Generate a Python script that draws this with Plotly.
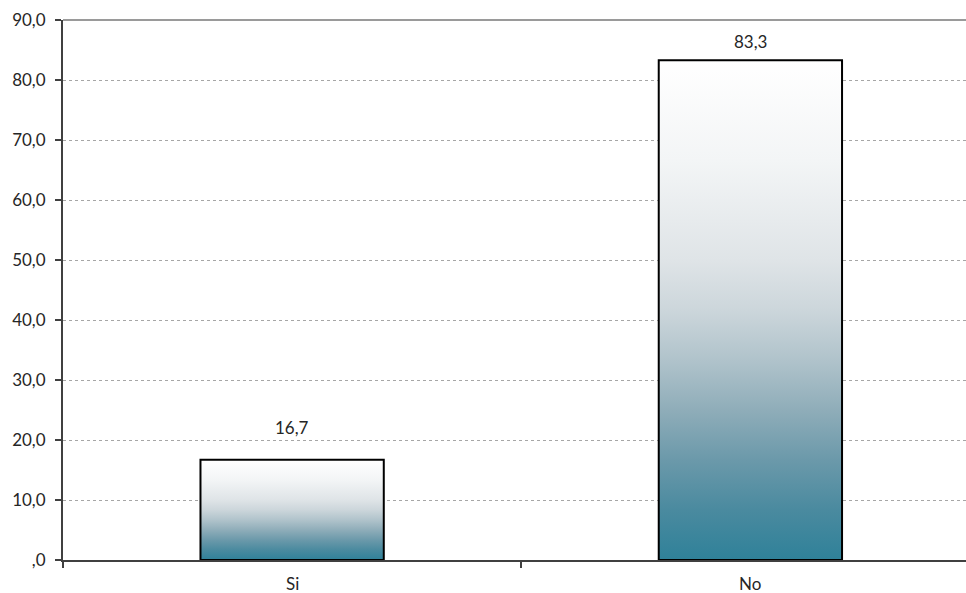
import plotly.graph_objects as go

# Survey responses (percent)
categories = ["Si", "No"]
values = [16.7, 83.3]
value_labels = ["16,7", "83,3"]

# Y axis ticks with comma decimal separator
y_ticks = [0, 10, 20, 30, 40, 50, 60, 70, 80, 90]
y_tick_labels = [",0", "10,0", "20,0", "30,0", "40,0", "50,0", "60,0", "70,0", "80,0", "90,0"]

BAR_W = 0.4
FONT = "Lato, 'Open Sans', sans-serif"
TEXT_COLOR = "#262626"
# vertical fill: teal at the base fading to white at the top
GRADIENT = [
    [0.0, "#2f8199"], [0.1, "#4a8a9f"], [0.2, "#6b99aa"], [0.3, "#8fadb9"],
    [0.4, "#b0c3cb"], [0.5, "#ccd6db"], [0.6, "#dfe4e7"], [0.8, "#f3f5f6"],
    [1.0, "#ffffff"],
]
label_gap = [32, 19]

fig = go.Figure()

for i, (cat, val) in enumerate(zip(categories, values)):
    x0, x1 = i - BAR_W / 2, i + BAR_W / 2
    fig.add_trace(go.Scatter(
        x=[x0, x0, x1, x1, x0],
        y=[0, val, val, 0, 0],
        mode="lines",
        fill="toself",
        fillgradient=dict(type="vertical", colorscale=GRADIENT),
        line=dict(color="#000000", width=2),
        hoverinfo="skip",
        showlegend=False,
    ))
    # value label above the bar, on a white box
    fig.add_annotation(
        x=i, y=val, text=value_labels[i], showarrow=False,
        yshift=label_gap[i], bgcolor="#ffffff", borderpad=1,
        font=dict(family=FONT, size=17, color=TEXT_COLOR),
    )
    # category label under the axis
    fig.add_annotation(
        x=i, y=0, text=cat, showarrow=False, yshift=-23, borderpad=0,
        font=dict(family=FONT, size=17, color=TEXT_COLOR),
    )

# top border of the plot area
fig.add_shape(type="line", xref="paper", yref="paper", x0=0, x1=1, y0=1, y1=1,
              line=dict(color="#9a9a9a", width=2))

fig.update_layout(
    width=966, height=593,
    margin=dict(l=63, r=0, t=20, b=33),
    paper_bgcolor="#ffffff", plot_bgcolor="#ffffff",
    font=dict(family=FONT, size=17, color=TEXT_COLOR),
    showlegend=False,
    xaxis=dict(
        range=[-0.5, 1.4705],
        tickvals=[-0.5, 0.5, 1.5], ticktext=["", "", ""],
        ticks="outside", ticklen=6, tickwidth=2, tickcolor="#404040",
        showgrid=False, zeroline=False,
        showline=True, linecolor="#404040", linewidth=2,
    ),
    yaxis=dict(
        range=[0, 90],
        tickvals=y_ticks, ticktext=y_tick_labels,
        ticks="outside", ticklen=6, tickwidth=1.5, tickcolor="#404040",
        ticklabelstandoff=6,
        showgrid=True, gridcolor="#a6a6a6", gridwidth=1, griddash="3px,3px",
        zeroline=False,
        showline=True, linecolor="#404040", linewidth=2,
        tickfont=dict(family=FONT, size=17, color=TEXT_COLOR),
    ),
)

fig.write_html("out.html")
